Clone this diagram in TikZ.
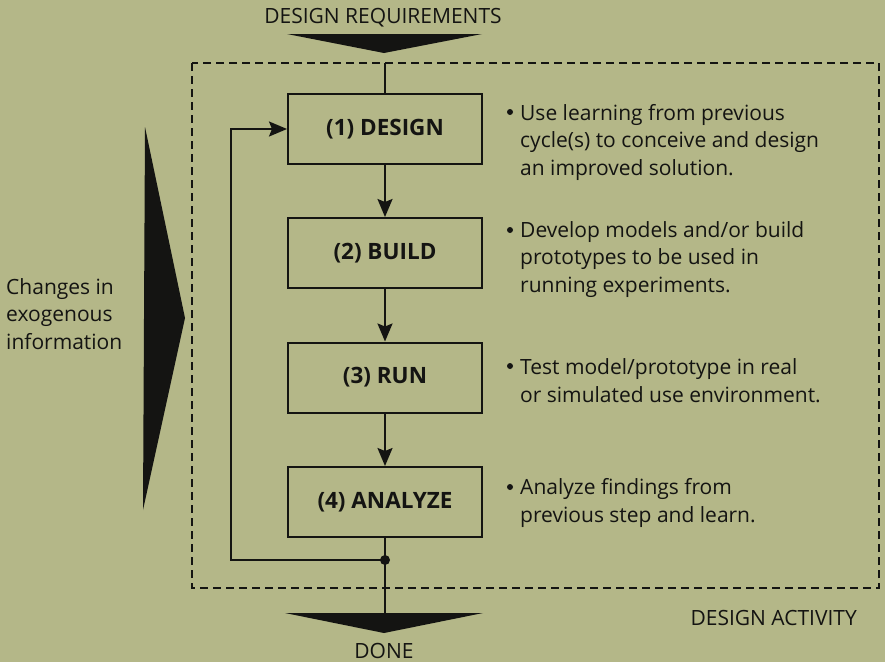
\documentclass[tikz,border=0pt]{standalone}
\usepackage{fontspec}
\setmainfont{Open Sans}
\usetikzlibrary{arrows.meta}
\definecolor{bg}{RGB}{180,183,136}
\definecolor{ink}{RGB}{20,20,18}
\tikzset{
  stepbox/.style={draw=ink, line width=2pt, minimum width=194pt, minimum height=70pt, inner sep=0pt,
    font=\fontsize{22.5}{27.5}\selectfont\bfseries, text=ink},
  conn/.style={draw=ink, line width=2pt},
  arr/.style={conn, -{Stealth[length=18pt,width=15pt,inset=3pt]}},
  note/.style={anchor=base west, inner sep=0pt, align=left, font=\fontsize{21}{27.5}\selectfont, text=ink},
  lbl/.style={inner sep=0pt, font=\fontsize{21}{27.5}\selectfont, text=ink},
  bul/.style={circle, fill=ink, inner sep=0pt, minimum size=6pt}
}
\begin{document}
\begin{tikzpicture}[x=1pt, y=-1pt]
\fill[bg] (0,0) rectangle (885,662);
\useasboundingbox (0,0) rectangle (885,662);
% dashed frame
\draw[ink, line width=1.6pt, dash pattern=on 8pt off 5pt] (192,63) rectangle (879,588);
% big arrows
\fill[ink] (287,34) -- (482,34) -- (384,53) -- cycle;
\fill[ink] (285,613) -- (483,613) -- (384,633) -- cycle;
\fill[ink] (145,127) -- (185,318) -- (143,510) -- cycle;
% labels
\node[lbl, anchor=base] (req) at (383,23) {DESIGN REQUIREMENTS};
\node[lbl, anchor=base] (done) at (384,658) {DONE};
\node[lbl, anchor=base east] (act) at (857,625) {DESIGN ACTIVITY};
\node[note] (exo) at (6,349) {Changes in\\exogenous\\information};
% boxes
\node[stepbox] (b1) at (385,129) {(1) DESIGN};
\node[stepbox] (b2) at (385,253) {(2) BUILD};
\node[stepbox] (b3) at (385,377.5) {(3) RUN};
\node[stepbox] (b4) at (385,502) {(4) ANALYZE};
% connectors
\coordinate (topin) at (385,63);
\coordinate (j) at (385,560);
\coordinate (out) at (385,613);
\coordinate (lc) at (231,560);
\coordinate (uc) at (231,129);
\draw[conn] (topin) -- (b1.north);
\draw[arr] (b1) -- (b2);
\draw[arr] (b2) -- (b3);
\draw[arr] (b3) -- (b4);
\draw[conn] (b4.south) -- (out);
\draw[arr] (j) -- (lc) -- (uc) -- (b1.west);
\fill[ink] (j) circle (5pt);
% notes
\node[bul] (d1) at (510,112) {};
\node[note] (n1) at (520,175) {Use learning from previous\\cycle(s) to conceive and design\\an improved solution.};
\node[bul] (d2) at (510,230) {};
\node[note] (n2) at (520,292) {Develop models and/or build\\prototypes to be used in\\running experiments.};
\node[bul] (d3) at (510,366) {};
\node[note] (n3) at (520,402) {Test model/prototype in real\\or simulated use environment.};
\node[bul] (d4) at (510,487) {};
\node[note] (n4) at (520,522) {Analyze findings from\\previous step and learn.};
\end{tikzpicture}
\end{document}
